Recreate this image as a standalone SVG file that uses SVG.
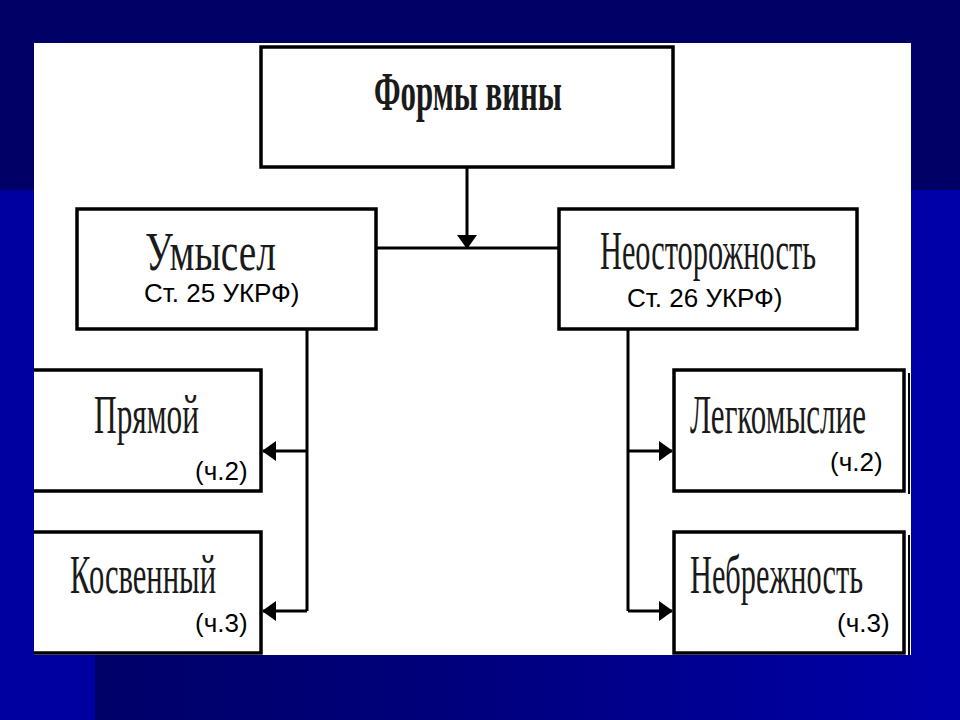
<svg xmlns="http://www.w3.org/2000/svg" width="960" height="720" viewBox="0 0 960 720">
  <defs>
    <linearGradient id="bg" x1="0" y1="0" x2="1" y2="0">
      <stop offset="0" stop-color="#000064"/>
      <stop offset="0.45" stop-color="#00007a"/>
      <stop offset="1" stop-color="#0000aa"/>
    </linearGradient>
    <marker id="ah" viewBox="0 0 14 20" refX="13" refY="10" markerWidth="14" markerHeight="20" markerUnits="userSpaceOnUse" orient="auto">
      <path d="M0,0 L14,10 L0,20 Z" fill="#000"/>
    </marker>
  </defs>
  <style>
    .box { fill: #ffffff; stroke: #000; stroke-width: 3.5; }
    .line { fill: none; stroke: #000; stroke-width: 3; }
    .title { font-family: "Liberation Serif", "DejaVu Serif", serif; font-size: 54px; fill: #1a1a1a; }
    .sub { font-family: "Liberation Sans", Arial, sans-serif; font-size: 26px; fill: #000; }
  </style>

  <!-- background -->
  <rect x="0" y="0" width="960" height="720" fill="#000066"/>
  <rect x="0" y="190" width="960" height="530" fill="url(#bg)"/>
  <rect x="0" y="190" width="95" height="530" fill="#0000a0"/>

  <!-- white panel -->
  <rect x="34" y="43" width="877" height="612" fill="#ffffff"/>

  <g id="node-forms">
    <rect class="box" x="261" y="47" width="412" height="120"/>
    <text class="title" x="374" y="110" textLength="188" lengthAdjust="spacingAndGlyphs" font-size="52" font-weight="bold" fill="#000">Формы вины</text>
  </g>

  <g id="node-umysel">
    <rect class="box" x="77" y="209" width="299" height="120"/>
    <text class="title" x="145" y="270" textLength="131" lengthAdjust="spacingAndGlyphs">Умысел</text>
    <text class="sub" x="144" y="302">Ст. 25 УКРФ)</text>
  </g>

  <g id="node-neost">
    <rect class="box" x="559" y="209" width="298" height="120"/>
    <text class="title" x="600" y="269" textLength="216" lengthAdjust="spacingAndGlyphs">Неосторожность</text>
    <text class="sub" x="627" y="307">Ст. 26 УКРФ)</text>
  </g>

  <g id="node-pryamoy">
    <rect class="box" x="20" y="370" width="241" height="121"/>
    <text class="title" x="94" y="433" textLength="105" lengthAdjust="spacingAndGlyphs">Прямой</text>
    <text class="sub" x="195" y="480">(ч.2)</text>
  </g>

  <g id="node-kosv">
    <rect class="box" x="20" y="532" width="241" height="121"/>
    <text class="title" x="70" y="593" textLength="146" lengthAdjust="spacingAndGlyphs">Косвенный</text>
    <text class="sub" x="195" y="632">(ч.3)</text>
  </g>

  <g id="node-legk">
    <rect class="box" x="674" y="370" width="230" height="121"/>
    <text class="title" x="690" y="433" textLength="176" lengthAdjust="spacingAndGlyphs">Легкомыслие</text>
    <text class="sub" x="830" y="471">(ч.2)</text>
  </g>

  <g id="node-nebr">
    <rect class="box" x="674" y="532" width="230" height="121"/>
    <text class="title" x="690" y="593" textLength="173" lengthAdjust="spacingAndGlyphs">Небрежность</text>
    <text class="sub" x="837" y="632">(ч.3)</text>
  </g>

  <!-- panel cover to clip left boxes at panel edge -->
  <rect x="0" y="360" width="34" height="300" fill="#0000a0"/>
  <rect x="911" y="360" width="49" height="300" fill="#0000a8"/>
  <line x1="909" y1="373" x2="909" y2="494" stroke="#000" stroke-width="2"/>
  <line x1="909" y1="535" x2="909" y2="655" stroke="#000" stroke-width="2"/>

  <g id="connectors">
    <line class="line" x1="467" y1="167" x2="467" y2="248" marker-end="url(#ah)"/>
    <line class="line" x1="376" y1="248" x2="559" y2="248"/>
    <polyline class="line" points="307,329 307,611"/>
    <line class="line" x1="307" y1="451" x2="263" y2="451" marker-end="url(#ah)"/>
    <line class="line" x1="307" y1="611" x2="263" y2="611" marker-end="url(#ah)"/>
    <polyline class="line" points="628,329 628,611"/>
    <line class="line" x1="628" y1="451" x2="672" y2="451" marker-end="url(#ah)"/>
    <line class="line" x1="628" y1="611" x2="672" y2="611" marker-end="url(#ah)"/>
  </g>
</svg>
